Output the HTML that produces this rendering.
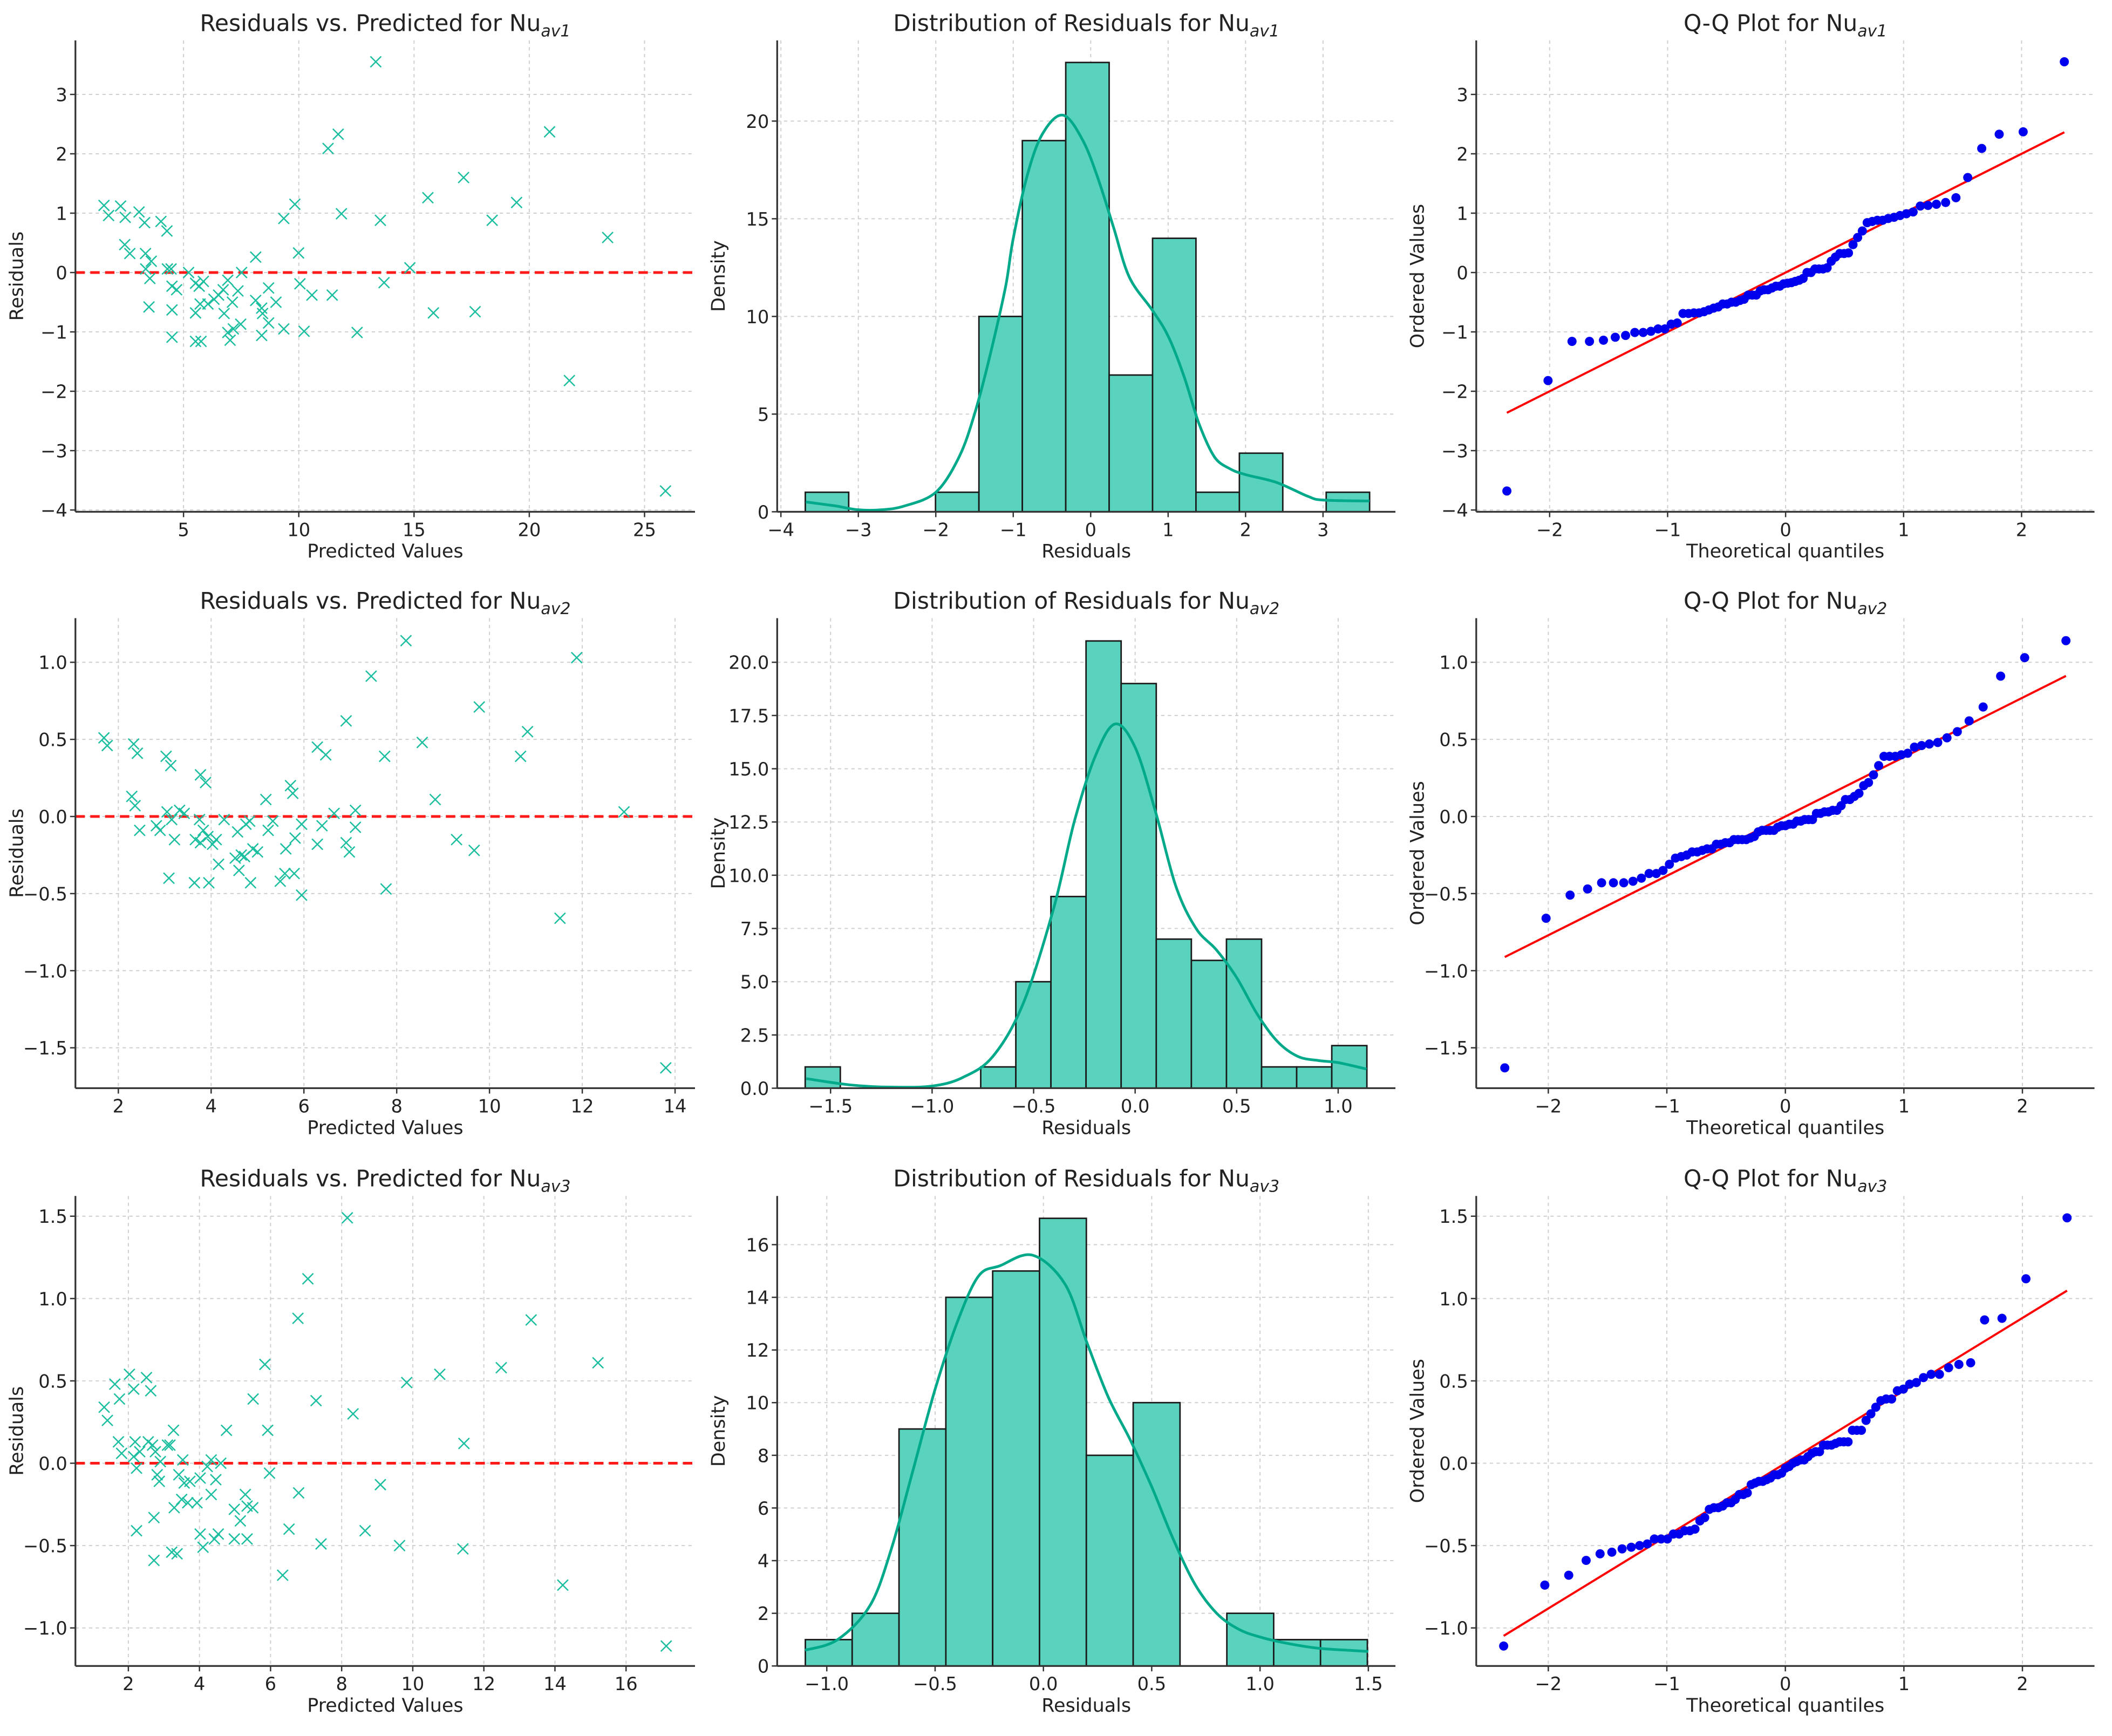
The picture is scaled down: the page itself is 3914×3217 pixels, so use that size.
<!DOCTYPE html>
<html><head><meta charset="utf-8"><title>Residual diagnostics</title>
<style>
html,body{margin:0;padding:0;background:#fff;}
svg{display:block;font-family:"DejaVu Sans","Liberation Sans",sans-serif;}
</style></head>
<body>
<svg id="fig" width="3914" height="3217" viewBox="0 0 1568 1289" preserveAspectRatio="none" xmlns="http://www.w3.org/2000/svg">
<rect x="0" y="0" width="1568" height="1289" fill="#fff"/>
</svg>
<script>
// ---------- DATA ----------
const pred1 = [1.55,1.75,2.27,2.47,3.07,3.31,4.02,4.28,2.45,2.67,3.35,3.6,3.36,3.54,3.5,4.3,4.46,4.5,4.7,4.5,4.5,5.22,5.52,5.68,5.86,5.72,5.52,5.52,5.76,6.06,6.32,6.52,6.72,6.92,6.76,6.92,7.02,7.16,7.12,7.36,7.48,7.52,8.13,8.13,8.39,8.43,8.39,8.69,8.69,9.01,9.35,9.35,9.83,9.99,10.05,10.23,10.57,11.27,11.45,11.71,11.85,12.53,13.34,13.54,13.7,14.82,15.6,15.84,17.15,17.65,18.39,19.45,20.88,21.74,23.4,25.91];
const resid1 = [1.13,0.96,1.12,0.93,1.02,0.84,0.86,0.70,0.47,0.32,0.32,0.19,0.06,-0.10,-0.58,0.06,0.06,-0.23,-0.29,-0.63,-1.09,0,-0.18,-0.23,-0.15,-0.53,-0.68,-1.16,-1.16,-0.53,-0.45,-0.38,-0.29,-0.13,-0.69,-1.01,-1.14,-0.95,-0.50,-0.31,-0.87,0,0.26,-0.47,-0.60,-0.69,-1.06,-0.26,-0.85,-0.50,-0.95,0.91,1.15,0.33,-0.19,-0.99,-0.38,2.09,-0.38,2.33,0.99,-1.01,3.55,0.88,-0.17,0.08,1.26,-0.68,1.60,-0.66,0.88,1.18,2.37,-1.82,0.59,-3.68];
const pred2 = [1.69,1.76,2.33,2.41,2.29,2.36,2.46,2.82,2.9,3.03,3.13,3.05,3.15,3.21,3.09,3.32,3.42,3.77,3.88,3.75,3.83,3.93,3.66,3.77,4.03,4.11,4.16,3.64,3.95,4.28,4.57,4.52,4.65,4.72,4.6,4.75,4.83,4.85,4.9,5.0,5.18,5.23,5.33,5.49,5.59,5.61,5.71,5.76,5.81,5.79,5.95,5.95,6.29,6.47,6.29,6.39,6.65,6.91,6.91,6.98,7.11,7.11,7.45,7.74,7.77,8.2,8.55,8.83,9.29,9.67,9.78,10.67,10.82,11.52,11.88,12.9,13.8];
const resid2 = [0.51,0.46,0.47,0.41,0.13,0.07,-0.09,-0.06,-0.09,0.39,0.33,0.03,-0.02,-0.15,-0.40,0.04,0.02,0.27,0.22,-0.02,-0.09,-0.13,-0.15,-0.17,-0.18,-0.15,-0.31,-0.43,-0.43,-0.02,-0.10,-0.27,-0.25,-0.26,-0.35,-0.05,-0.03,-0.43,-0.21,-0.23,0.11,-0.09,-0.03,-0.42,-0.37,-0.21,0.20,0.15,-0.14,-0.37,-0.05,-0.51,0.45,0.40,-0.18,-0.06,0.02,0.62,-0.17,-0.23,0.04,-0.07,0.91,0.39,-0.47,1.14,0.48,0.11,-0.15,-0.22,0.71,0.39,0.55,-0.66,1.03,0.03,-1.63];
const pred3 = [1.32,1.41,1.62,1.75,1.72,1.81,2.03,2.15,2.19,2.15,2.23,2.32,2.23,2.51,2.63,2.56,2.68,2.76,2.81,2.87,2.9,2.72,2.72,3.1,3.17,3.27,3.29,3.22,3.37,3.42,3.53,3.57,3.5,3.67,3.73,3.93,4.02,4.02,4.1,4.22,4.33,4.33,4.42,4.46,4.53,4.6,4.76,4.98,4.98,5.15,5.29,5.34,5.34,5.5,5.51,5.84,5.92,5.97,6.34,6.52,6.77,6.79,7.05,7.28,7.42,8.16,8.32,8.66,9.09,9.63,9.83,10.76,11.44,11.41,12.49,13.33,14.22,15.21,17.13];
const resid3 = [0.34,0.26,0.48,0.39,0.13,0.06,0.54,0.45,0.13,0.04,-0.03,0.07,-0.41,0.52,0.44,0.13,0.11,0.07,-0.07,-0.11,0.01,-0.33,-0.59,0.11,0.11,0.20,-0.27,-0.54,-0.55,-0.07,0.02,-0.12,-0.22,-0.24,-0.11,-0.24,-0.09,-0.43,-0.51,-0.02,0.02,-0.19,-0.46,-0.10,-0.43,0.0,0.20,-0.28,-0.46,-0.35,-0.19,-0.26,-0.46,-0.27,0.39,0.60,0.20,-0.06,-0.68,-0.40,0.88,-0.18,1.12,0.38,-0.49,1.49,0.30,-0.41,-0.13,-0.50,0.49,0.54,0.12,-0.52,0.58,0.87,-0.74,0.61,-1.11];

const hist1Start = [-3.685], hist1Width = [0.5605];
const hist1Counts = [1,0,0,1,10,19,23,7,14,1,3,0,1];
const hist2Start = [-1.625], hist2Width = [0.1729];
const hist2Counts = [1,0,0,0,0,1,5,9,21,19,7,6,7,1,1,2];
const hist3Start = [-1.099], hist3Width = [0.2162];
const hist3Counts = [1,2,9,14,15,17,8,10,0,2,1,1];

const kde1X = [-3.68,-3.3,-3.0,-2.7,-2.4,-2.0,-1.7,-1.5,-1.3,-1.1,-1.0,-0.8,-0.6,-0.35,-0.1,0.1,0.3,0.5,0.8,1.0,1.2,1.4,1.6,1.8,2.0,2.4,2.8,3.0,3.6];
const kde1Y = [0.5,0.3,0.1,0.1,0.3,1.0,2.8,5.0,8.0,11.5,14.0,17.5,19.5,20.3,19.0,17.0,14.5,12.0,10.3,9.0,7.0,4.5,2.8,2.2,1.9,1.5,0.8,0.6,0.55];
const kde2X = [-1.62,-1.4,-1.2,-1.0,-0.85,-0.7,-0.55,-0.4,-0.3,-0.2,-0.1,0.0,0.1,0.2,0.3,0.4,0.5,0.6,0.7,0.8,0.9,1.0,1.14];
const kde2Y = [0.45,0.15,0.05,0.1,0.5,1.5,4.0,8.5,12.5,15.5,17.1,16.0,13.0,9.5,7.5,6.5,5.2,3.5,2.2,1.5,1.3,1.2,0.9];
const kde3X = [-1.1,-0.95,-0.8,-0.7,-0.6,-0.5,-0.4,-0.3,-0.2,-0.05,0.1,0.2,0.3,0.4,0.5,0.6,0.7,0.8,0.9,1.0,1.1,1.2,1.3,1.5];
const kde3Y = [0.6,1.0,2.3,4.5,7.5,10.5,13.0,14.8,15.2,15.6,14.5,12.3,10.2,8.6,6.8,4.8,3.1,2.0,1.4,1.1,0.9,0.75,0.65,0.55];

const qq1Fit = [1.0, 0.0], qq2Fit = [0.385, 0.0], qq3Fit = [0.441, 0.0];

const p1XT=[5,10,15,20,25], p1YT=[-4,-3,-2,-1,0,1,2,3];
const p2XT=[-4,-3,-2,-1,0,1,2,3], p2YT=[0,5,10,15,20];
const qqXT=[-2,-1,0,1,2];
const p4XT=[2,4,6,8,10,12,14], p4YT=[-1.5,-1.0,-0.5,0.0,0.5,1.0];
const p5XT=[-1.5,-1.0,-0.5,0.0,0.5,1.0], p5YT=[0,2.5,5,7.5,10,12.5,15,17.5,20];
const p7XT=[2,4,6,8,10,12,14,16], p7YT=[-1.0,-0.5,0.0,0.5,1.0,1.5];
const p8XT=[-1.0,-0.5,0.0,0.5,1.0,1.5], p8YT=[0,2,4,6,8,10,12,14,16];

// ---------- DRAW ----------
const NS='http://www.w3.org/2000/svg';
const fig=document.getElementById('fig');
function mk(tag,attrs,parent){const e=document.createElementNS(NS,tag);for(const k in attrs)e.setAttribute(k,attrs[k]);(parent||fig).appendChild(e);return e;}
function fmt(v,dec){let s=v.toFixed(dec);if(v<0)s='\u2212'+s.slice(1);return s;}

const COLS=[[56,516],[577,1036],[1096,1555]];
const ROWS=[[30,380],[459,808],[888,1237]];

function panel(name,r,c,xr,yr,xt,yt,xdec,ydec,title,sub,xlabel,ylabel){
  const [x0,x1]=COLS[c],[y0,y1]=ROWS[r];
  const g=mk('g',{});
  
  
  const sx=v=>x0+(v-xr[0])/(xr[1]-xr[0])*(x1-x0);
  const sy=v=>y1-(v-yr[0])/(yr[1]-yr[0])*(y1-y0);
  const grid=mk('g',{stroke:'#cfcfcf','stroke-width':0.8,'stroke-dasharray':'2.5,2.5'},g);
  
  
  xt.forEach(v=>mk('line',{x1:sx(v),x2:sx(v),y1:y0,y2:y1},grid));
  yt.forEach(v=>mk('line',{x1:x0,x2:x1,y1:sy(v),y2:sy(v)},grid));
  const ticks=mk('g',{fill:'#222','font-size':13.5},g);
  xt.forEach(v=>{
    mk('line',{x1:sx(v),x2:sx(v),y1:y1,y2:y1+4,stroke:'#333','stroke-width':1},g);
    const t=mk('text',{x:sx(v),y:y1+18,'text-anchor':'middle'},ticks);t.textContent=fmt(v,xdec);
    
    
  });
  yt.forEach(v=>{
    mk('line',{x1:x0-4,x2:x0,y1:sy(v),y2:sy(v),stroke:'#333','stroke-width':1},g);
    const t=mk('text',{x:x0-6,y:sy(v)+5,'text-anchor':'end'},ticks);t.textContent=fmt(v,ydec);
    
    
  });
  const tt=mk('text',{x:(x0+x1)/2,y:y0-7,'text-anchor':'middle','font-size':17,fill:'#222'},g);
  
  
  tt.appendChild(document.createTextNode(title));
  const ts=mk('tspan',{'font-size':12,'font-style':'italic',dy:4},tt);ts.textContent=sub;
  const xl=mk('text',{x:(x0+x1)/2,y:y1+34,'text-anchor':'middle','font-size':14,fill:'#222'},g);xl.textContent=xlabel;
  
  
  const yx=x0-39;
  const yl=mk('text',{x:0,y:0,'text-anchor':'middle','font-size':14,fill:'#222',transform:`translate(${yx},${(y0+y1)/2}) rotate(-90)`},g);yl.textContent=ylabel;
  
  
  return {g,sx,sy,x0,x1,y0,y1};
}
function spines(p){
  mk('line',{x1:p.x0,x2:p.x0,y1:p.y0,y2:p.y1,stroke:'#333','stroke-width':1.3},p.g);
  mk('line',{x1:p.x0,x2:p.x1,y1:p.y1,y2:p.y1,stroke:'#333','stroke-width':1.3},p.g);
}
function scatter(p,xs,ys){
  const zl=mk('line',{x1:p.x0,x2:p.x1,y1:p.sy(0),y2:p.sy(0),stroke:'#ff1a1a','stroke-width':2,'stroke-dasharray':'7,4'},p.g);
  
  
  const s=4;
  xs.forEach((x,i)=>{
    const X=p.sx(x),Y=p.sy(ys[i]);
    const m=mk('path',{d:`M${X-s},${Y-s}L${X+s},${Y+s}M${X-s},${Y+s}L${X+s},${Y-s}`,stroke:'#1bbf9f','stroke-width':1},p.g);
    
    
  });
  spines(p);
}
function smoothPath(pts){
  let d='M'+pts[0][0].toFixed(1)+','+pts[0][1].toFixed(1);
  for(let i=0;i<pts.length-1;i++){
    const p0=pts[i-1]||pts[i],p1=pts[i],p2=pts[i+1],p3=pts[i+2]||p2;
    const c1=[p1[0]+(p2[0]-p0[0])/6,p1[1]+(p2[1]-p0[1])/6];
    const c2=[p2[0]-(p3[0]-p1[0])/6,p2[1]-(p3[1]-p1[1])/6];
    d+='C'+c1[0].toFixed(1)+','+c1[1].toFixed(1)+' '+c2[0].toFixed(1)+','+c2[1].toFixed(1)+' '+p2[0].toFixed(1)+','+p2[1].toFixed(1);
  }
  return d;
}
function hist(p,start,width,counts,kx,ky){
  counts.forEach((c,i)=>{
    if(c<=0)return;
    const a=start[0]+i*width[0],b=a+width[0];
    const r=mk('rect',{x:p.sx(a),y:p.sy(c),width:p.sx(b)-p.sx(a),height:p.sy(0)-p.sy(c),fill:'#59d3bd',stroke:'#1a1a1a','stroke-width':1.1},p.g);
    
    
  });
  const pts=kx.map((x,i)=>[p.sx(x),p.sy(ky[i])]);
  const k=mk('path',{d:smoothPath(pts),fill:'none',stroke:'#00a98a','stroke-width':2,'stroke-linejoin':'round'},p.g);
  
  
  spines(p);
}
function invNorm(pr){
  const a=[-39.6968302866538,220.946098424521,-275.928510446969,138.357751867269,-30.6647980661472,2.50662827745924];
  const b=[-54.4760987982241,161.585836858041,-155.698979859887,66.8013118877197,-13.2806815528857];
  const c=[-0.00778489400243029,-0.322396458041136,-2.40075827716184,-2.54973253934373,4.37466414146497,2.93816398269878];
  const d=[0.00778469570904146,0.32246712907004,2.445134137143,3.75440866190742];
  const pl=0.02425;let q,r;
  if(pr<pl){q=Math.sqrt(-2*Math.log(pr));return(((((c[0]*q+c[1])*q+c[2])*q+c[3])*q+c[4])*q+c[5])/((((d[0]*q+d[1])*q+d[2])*q+d[3])*q+1);}
  if(pr>1-pl){q=Math.sqrt(-2*Math.log(1-pr));return-(((((c[0]*q+c[1])*q+c[2])*q+c[3])*q+c[4])*q+c[5])/((((d[0]*q+d[1])*q+d[2])*q+d[3])*q+1);}
  q=pr-0.5;r=q*q;return(((((a[0]*r+a[1])*r+a[2])*r+a[3])*r+a[4])*r+a[5])*q/(((((b[0]*r+b[1])*r+b[2])*r+b[3])*r+b[4])*r+1);
}
function qq(p,resid,fit){
  const ys=resid.slice().sort((a,b)=>a-b),n=ys.length;
  const mn=Math.pow(0.5,1/n);
  const xs=ys.map((_,i)=>{const m=i==0?1-mn:(i==n-1?mn:(i+1-0.3175)/(n+0.365));return invNorm(m);});
  const xa=xs[0],xb=xs[n-1];
  const fl=mk('line',{x1:p.sx(xa),y1:p.sy(fit[0]*xa+fit[1]),x2:p.sx(xb),y2:p.sy(fit[0]*xb+fit[1]),stroke:'#ff0000','stroke-width':1.6},p.g);
  
  
  xs.forEach((x,i)=>{
    const dt=mk('circle',{cx:p.sx(x),cy:p.sy(ys[i]),r:3.4,fill:'#0000ee'},p.g);
    
    
  });
  spines(p);
}

const rlimits=[[-4.03,3.91],[-1.762,1.286],[-1.231,1.623]];
scatter(panel('residuals-vs-predicted-nuav1',0,0,[0.31,27.19],rlimits[0],p1XT,p1YT,0,0,'Residuals vs. Predicted for Nu','av1','Predicted Values','Residuals'),pred1,resid1);
hist(panel('residual-distribution-nuav1',0,1,[-4.048,3.935],[0,24.13],p2XT,p2YT,0,0,'Distribution of Residuals for Nu','av1','Residuals','Density'),hist1Start,hist1Width,hist1Counts,kde1X,kde1Y);
qq(panel('qq-plot-nuav1',0,2,[-2.622,2.618],rlimits[0],qqXT,p1YT,0,0,'Q-Q Plot for Nu','av1','Theoretical quantiles','Ordered Values'),resid1,qq1Fit);

scatter(panel('residuals-vs-predicted-nuav2',1,0,[1.075,14.43],rlimits[1],p4XT,p4YT,0,1,'Residuals vs. Predicted for Nu','av2','Predicted Values','Residuals'),pred2,resid2);
hist(panel('residual-distribution-nuav2',1,1,[-1.763,1.282],[0,22.07],p5XT,p5YT,1,1,'Distribution of Residuals for Nu','av2','Residuals','Density'),hist2Start,hist2Width,hist2Counts,kde2X,kde2Y);
qq(panel('qq-plot-nuav2',1,2,[-2.608,2.608],rlimits[1],qqXT,p4YT,0,1,'Q-Q Plot for Nu','av2','Theoretical quantiles','Ordered Values'),resid2,qq2Fit);

scatter(panel('residuals-vs-predicted-nuav3',2,0,[0.511,17.94],rlimits[2],p7XT,p7YT,0,1,'Residuals vs. Predicted for Nu','av3','Predicted Values','Residuals'),pred3,resid3);
hist(panel('residual-distribution-nuav3',2,1,[-1.229,1.625],[0,17.85],p8XT,p8YT,1,0,'Distribution of Residuals for Nu','av3','Residuals','Density'),hist3Start,hist3Width,hist3Counts,kde3X,kde3Y);
qq(panel('qq-plot-nuav3',2,2,[-2.608,2.608],rlimits[2],qqXT,p7YT,0,1,'Q-Q Plot for Nu','av3','Theoretical quantiles','Ordered Values'),resid3,qq3Fit);
</script>
</body></html>
